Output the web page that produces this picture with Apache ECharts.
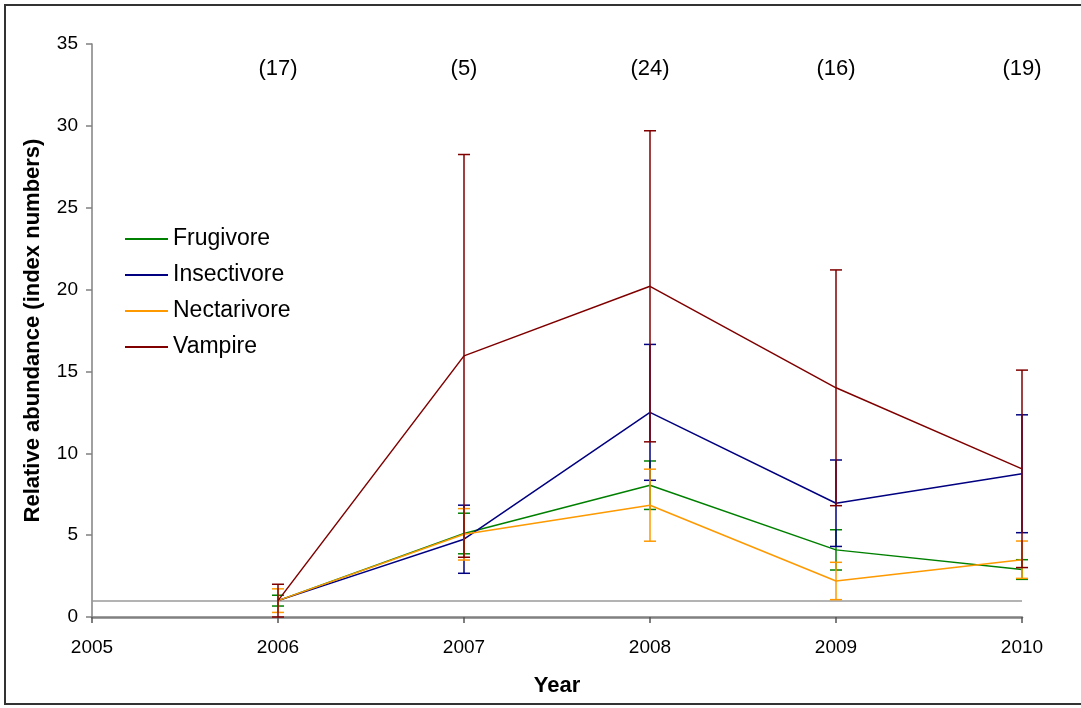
<!DOCTYPE html>
<html>
<head>
<meta charset="utf-8">
<title>Relative abundance by feeding guild</title>
<script src="https://cdn.jsdelivr.net/npm/echarts@6/dist/echarts.min.js"></script>
<style>
  html, body { margin: 0; padding: 0; background: #ffffff; }
  #chart { width: 1081px; height: 708px; }
</style>
</head>
<body>
<div id="chart"></div>
<script>
// Survey years
const years = [2006, 2007, 2008, 2009, 2010];

// Mean relative abundance (index numbers, 2006 = 1) and error half-widths
const frugivore = [1.0, 5.1, 8.05, 4.1, 2.9];
const frugivoreErr = [0.33, 1.24, 1.48, 1.23, 0.6];

const insectivore = [1.0, 4.75, 12.5, 6.95, 8.75];
const insectivoreErr = [0, 2.08, 4.15, 2.64, 3.6];

const nectarivore = [1.0, 5.05, 6.83, 2.2, 3.5];
const nectarivoreErr = [0.72, 1.57, 2.2, 1.14, 1.14];

const vampire = [1.0, 15.95, 20.2, 14.0, 9.05];
const vampireErr = [1.0, 12.3, 9.5, 7.2, 6.03];

// Number of sampling units per year, printed above the plot
const sampleSizes = [17, 5, 24, 16, 19];
const sampleLabelLevel = 33.5;

// Reference level of the index
const baseIndex = 1;

const xTickLabels = ['2005', '2006', '2007', '2008', '2009', '2010'];

const guilds = [
  { name: 'Frugivore',   color: '#008000', mean: frugivore,   err: frugivoreErr },
  { name: 'Insectivore', color: '#000080', mean: insectivore, err: insectivoreErr },
  { name: 'Nectarivore', color: '#FF9900', mean: nectarivore, err: nectarivoreErr },
  { name: 'Vampire',     color: '#800000', mean: vampire,     err: vampireErr }
];

const FONT = '"Liberation Sans", Arial, sans-serif';

function errorBarSeries(g, z) {
  return {
    name: g.name,
    type: 'custom',
    z: z,
    silent: true,
    color: g.color,
    itemStyle: { color: g.color },
    data: years.map((y, i) => [y, g.mean[i] - g.err[i], g.mean[i] + g.err[i], g.err[i]]),
    renderItem: function (params, api) {
      if (api.value(3) <= 0) return null;
      const top = api.coord([api.value(0), api.value(2)]);
      const bot = api.coord([api.value(0), api.value(1)]);
      const hw = 6;
      const style = { stroke: g.color, lineWidth: 1.5, fill: null };
      return {
        type: 'group',
        children: [
          { type: 'line', shape: { x1: top[0], y1: top[1], x2: bot[0], y2: bot[1] }, style: style },
          { type: 'line', shape: { x1: top[0] - hw, y1: top[1], x2: top[0] + hw, y2: top[1] }, style: style },
          { type: 'line', shape: { x1: bot[0] - hw, y1: bot[1], x2: bot[0] + hw, y2: bot[1] }, style: style }
        ]
      };
    }
  };
}

function lineSeries(g, z) {
  return {
    name: g.name,
    type: 'line',
    z: z,
    symbol: 'none',
    color: g.color,
    itemStyle: { color: g.color },
    lineStyle: { color: g.color, width: 1.5 },
    data: years.map((y, i) => [y, g.mean[i]])
  };
}

const series = [];
guilds.forEach((g, i) => {
  series.push(errorBarSeries(g, 2 + i * 2));
  series.push(lineSeries(g, 3 + i * 2));
});

// Horizontal reference line at the base index
series.push({
  type: 'line',
  name: 'base',
  data: [],
  z: 1,
  markLine: {
    silent: true,
    symbol: 'none',
    label: { show: false },
    lineStyle: { color: '#9a9a9a', width: 1.5, type: 'solid' },
    data: [{ yAxis: baseIndex }]
  }
});

// Sample sizes above each year
series.push({
  type: 'scatter',
  name: 'n',
  silent: true,
  symbolSize: 1,
  itemStyle: { color: 'rgba(255,255,255,0)' },
  data: years.map((y, i) => [y, sampleLabelLevel, sampleSizes[i]]),
  label: {
    show: true,
    position: 'inside',
    formatter: p => '(' + p.value[2] + ')',
    color: '#000000',
    textBorderWidth: 0,
    opacity: 1,
    fontFamily: FONT,
    fontSize: 22
  }
});

const chart = echarts.init(document.getElementById('chart'), null, { renderer: 'canvas' });

chart.setOption({
  backgroundColor: '#ffffff',
  animation: false,
  graphic: [{
    type: 'rect',
    silent: true,
    shape: { x: 5, y: 5, width: 1100, height: 699 },
    style: { fill: null, stroke: '#333', lineWidth: 2 }
  }],
  grid: { left: 92, right: 59, top: 44, bottom: 91, containLabel: false },
  legend: {
    orient: 'vertical',
    left: 120,
    top: 222,
    itemWidth: 43,
    itemHeight: 2,
    itemGap: 12,
    icon: 'rect',
    data: guilds.map(g => ({ name: g.name, itemStyle: { color: g.color } })),
    textStyle: { fontFamily: FONT, fontSize: 23, color: '#000', lineHeight: 24, padding: [0, 0, 0, 0] }
  },
  xAxis: {
    type: 'value',
    min: 2005,
    max: 2010,
    interval: 1,
    name: 'Year',
    nameLocation: 'middle',
    nameGap: 58,
    nameTextStyle: { fontFamily: FONT, fontSize: 22, fontWeight: 'bold', color: '#000' },
    axisLine: { show: true, onZero: false, lineStyle: { color: '#808080', width: 2.5 } },
    axisTick: { show: true, inside: false, length: 6, lineStyle: { color: '#555', width: 1.5 } },
    axisLabel: {
      margin: 21,
      fontFamily: FONT,
      fontSize: 19,
      color: '#000',
      formatter: v => xTickLabels[Math.round(v - 2005)]
    },
    splitLine: { show: false }
  },
  yAxis: {
    type: 'value',
    min: 0,
    max: 35,
    interval: 5,
    name: 'Relative abundance (index numbers)',
    nameLocation: 'middle',
    nameGap: 48,
    nameTextStyle: { fontFamily: FONT, fontSize: 22, fontWeight: 'bold', color: '#000' },
    axisLine: { show: true, lineStyle: { color: '#808080', width: 1.5 } },
    axisTick: { show: true, inside: false, length: 6, lineStyle: { color: '#808080', width: 1.5 } },
    axisLabel: { margin: 14, fontFamily: FONT, fontSize: 19, color: '#000' },
    splitLine: { show: false }
  },
  series: series
});
</script>
</body>
</html>
